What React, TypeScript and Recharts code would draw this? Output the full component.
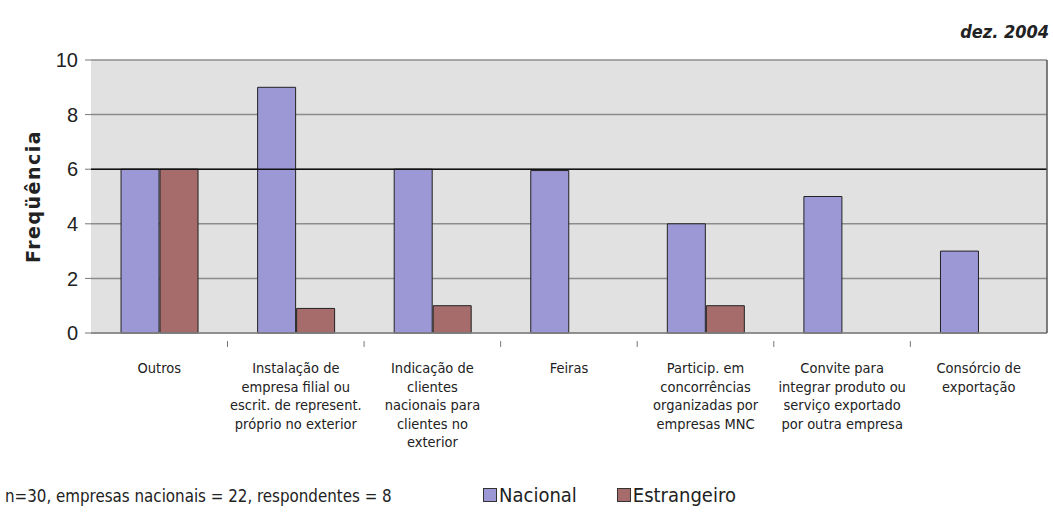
import { BarChart, Bar, XAxis, YAxis, CartesianGrid, ReferenceLine } from "recharts";

const categorias = [
  "Outros",
  "Instalação de\nempresa filial ou\nescrit. de represent.\npróprio no exterior",
  "Indicação de\nclientes\nnacionais para\nclientes no\nexterior",
  "Feiras",
  "Particip. em\nconcorrências\norganizadas por\nempresas MNC",
  "Convite para\nintegrar produto ou\nserviço exportado\npor outra empresa",
  "Consórcio de\nexportação",
];
const nacional = [6, 9, 6, 5.95, 4, 5, 3];
const estrangeiro = [6, 0.9, 1, 0, 1, 0, 0];
const yTicks = [0, 2, 4, 6, 8, 10];

const data = categorias.map((c, i) => ({
  categoria: c,
  nacional: nacional[i],
  estrangeiro: estrangeiro[i],
}));

const W = 1053;
const H = 512;
const X_H = 175;
const M = { top: 60, right: 5, left: 20, bottom: H - 333 - X_H };
const Y_W = 71;
const band = (W - M.left - M.right - Y_W) / categorias.length;

const narrow = "'Liberation Sans Narrow', 'Arial Narrow', 'DejaVu Sans Condensed', sans-serif";

const XTick = (props: any) => {
  const { x, y, payload, index } = props;
  const lines = String(payload.value).split("\n");
  const left = x - band / 2;
  return (
    <g>
      {index > 0 && <line x1={left} x2={left} y1={y} y2={y + 6} stroke="#777" />}
      <text x={x} y={y + 32} textAnchor="middle" fontFamily={narrow} fontSize={14.5} fill="#222">
        {lines.map((l: string, k: number) => (
          <tspan key={k} x={x} dy={k === 0 ? 0 : 18.5}>
            {l}
          </tspan>
        ))}
      </text>
    </g>
  );
};

const swatch = (color: string) => (
  <span style={{ width: 12, height: 12, background: color, border: "1px solid #333", marginRight: 2 }} />
);

export default function App() {
  return (
    <div style={{ position: "absolute", left: 0, top: 0, width: W, height: H, background: "#fff" }}>
      <BarChart width={W} height={H} data={data} margin={M} barCategoryGap="22%" barGap={1}>
        <CartesianGrid vertical={false} fill="#e1e1e1" stroke="#8c8c8c" strokeWidth={1.5} />
        <ReferenceLine y={6} stroke="#111" strokeWidth={1.5} />
        <XAxis
          dataKey="categoria"
          interval={0}
          tick={<XTick />}
          tickLine={false}
          axisLine={{ stroke: "#888", strokeWidth: 1.5 }}
          height={X_H}
        />
        <YAxis
          width={Y_W}
          domain={[0, 10]}
          ticks={yTicks}
          tickSize={6}
          tickMargin={7}
          tickLine={{ stroke: "#777" }}
          axisLine={false}
          tick={{ fontFamily: "'Liberation Sans', Arial, sans-serif", fontSize: 20, fill: "#222" }}
          label={{
            value: "Freqüência",
            angle: -90,
            position: "insideLeft",
            offset: 13,
            style: {
              textAnchor: "middle",
              fontFamily: "'DejaVu Sans', sans-serif",
              fontWeight: "bold",
              fontSize: 19,
              letterSpacing: 1.5,
              fill: "#222",
            },
          }}
        />
        <YAxis yAxisId="r" orientation="right" width={1} domain={[0, 10]} tick={false} axisLine={{ stroke: "#555", strokeWidth: 1.5 }} />
        <Bar dataKey="nacional" name="Nacional" fill="#9c98d6" stroke="#222" strokeWidth={1} isAnimationActive={false} />
        <Bar dataKey="estrangeiro" name="Estrangeiro" fill="#a66c6c" stroke="#222" strokeWidth={1} isAnimationActive={false} />
      </BarChart>
      <div style={{ position: "absolute", right: 4, top: 21, fontFamily: narrow, fontWeight: "bold", fontStyle: "italic", fontSize: 18, color: "#222" }}>
        dez. 2004
      </div>
      <div style={{ position: "absolute", left: 5, top: 486, fontFamily: narrow, fontSize: 16.8, color: "#222" }}>
        n=30, empresas nacionais = 22, respondentes = 8
      </div>
      <div style={{ position: "absolute", left: 483, top: 483, display: "flex", fontFamily: narrow, fontSize: 20, color: "#222" }}>
        <span style={{ display: "flex", alignItems: "center", marginRight: 40 }}>
          {swatch("#9c98d6")}
          Nacional
        </span>
        <span style={{ display: "flex", alignItems: "center" }}>
          {swatch("#a66c6c")}
          Estrangeiro
        </span>
      </div>
    </div>
  );
}
